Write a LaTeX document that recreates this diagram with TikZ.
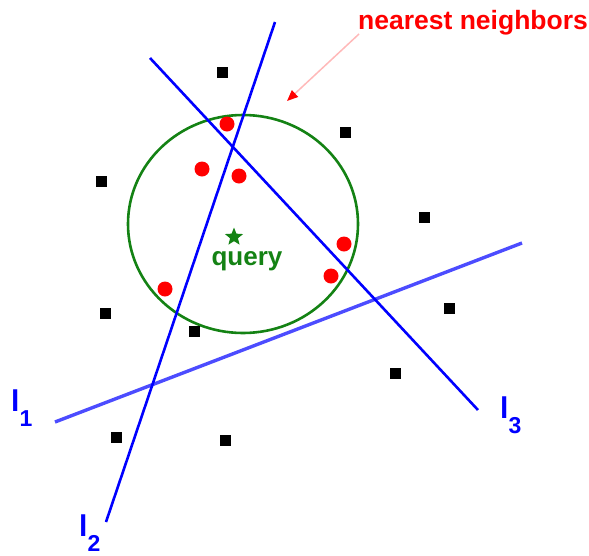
\documentclass[tikz,border=0pt]{standalone}
\usepackage{fontspec}
\setmainfont{Liberation Sans}
\usetikzlibrary{shapes.geometric,arrows.meta}
\definecolor{lblue}{RGB}{0,0,255}
\definecolor{cgreen}{RGB}{20,130,20}
\definecolor{pinkline}{RGB}{255,185,185}
\tikzset{
  sq/.style={draw=none,fill=black,minimum size=11pt,inner sep=0pt,outer sep=0pt},
  nn/.style={circle,fill=red,draw=none,minimum size=15pt,inner sep=0pt},
  hline/.style={draw=lblue,line width=2.6pt},
  lab/.style={text=lblue,inner sep=0pt,anchor=base west,font=\fontsize{30}{32}\selectfont\bfseries},
}
\newcommand{\subdig}[1]{\raisebox{-15pt}{\fontsize{23}{25}\selectfont\bfseries #1}}
\begin{document}
\begin{tikzpicture}[x=1pt,y=-1pt]
\useasboundingbox (0,0) rectangle (589,555);
% circle
\node[draw=cgreen,line width=2.6pt,ellipse,minimum width=230pt,minimum height=218pt,inner sep=0pt] (circ) at (243,224) {};
% hash lines
\coordinate (l1a) at (55,422); \coordinate (l1b) at (522,243);
\coordinate (l2a) at (275,22); \coordinate (l2b) at (106,522);
\coordinate (l3a) at (150,58); \coordinate (l3b) at (478,410);
\draw[draw=lblue!70,line width=3.4pt] (l1a) -- (l1b);
\draw[hline] (l2a) -- (l2b);
\draw[hline] (l3a) -- (l3b);
% black points
\node[sq] (b1) at (222,72) {};
\node[sq] (b2) at (345,132) {};
\node[sq] (b3) at (101,181) {};
\node[sq] (b4) at (424,217) {};
\node[sq] (b5) at (449,308) {};
\node[sq] (b6) at (105,313) {};
\node[sq] (b7) at (194,331) {};
\node[sq] (b8) at (395,373) {};
\node[sq] (b9) at (116,437) {};
\node[sq] (b10) at (225,440) {};
% nearest neighbors
\node[nn] (r1) at (227,124) {};
\node[nn] (r2) at (202,169) {};
\node[nn] (r3) at (239,176) {};
\node[nn] (r4) at (344,244) {};
\node[nn] (r5) at (331,276) {};
\node[nn] (r6) at (165,289) {};
% query
\node[star,star points=5,star point ratio=2.3,fill=cgreen,draw=none,minimum size=19pt,inner sep=0pt] (q) at (234,237) {};
\node[text=cgreen,font=\fontsize{26}{28}\selectfont\bfseries,inner sep=0pt,anchor=base] (qt) at (247,265) {query};
% labels
\node[lab] (L1) at (11,411) {l\subdig{1}};
\node[lab] (L2) at (79,536) {l\subdig{2}};
\node[lab] (L3) at (500,418) {l\subdig{3}};
% title
\node[text=red,font=\fontsize{26.5}{28}\selectfont\bfseries,anchor=base west,inner sep=0pt] (nt) at (358,29) {nearest neighbors};
\coordinate (arrS) at (359,34);
\coordinate (arrE) at (287,101);
\draw[draw=pinkline,line width=1.5pt,-{Triangle[length=11pt,width=9pt,fill=red,color=red]}] (arrS) -- (arrE);
\end{tikzpicture}
\end{document}
